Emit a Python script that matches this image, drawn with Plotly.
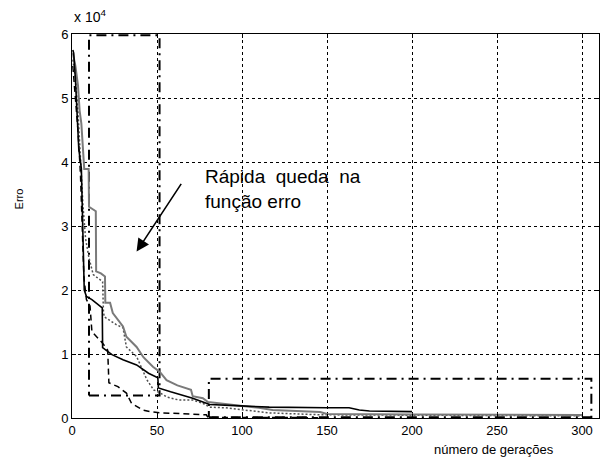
import plotly.graph_objects as go

# ---- data (error vs number of generations) ----
black_x = [0.5, 1, 2, 3, 4, 5.5, 6.5, 7.2, 8.5, 11.7, 17.8, 18, 23.5, 30, 38, 45, 50.5, 50.8, 58, 65, 71, 77, 81, 99, 116, 150, 163, 169, 175, 200]
black_y = [57500, 57000, 53000, 47000, 42000, 39000, 30000, 20000, 19000, 18500, 17200, 11000, 9900, 9100, 8300, 7000, 6300, 4700, 4100, 3600, 3100, 2500, 2100, 1900, 1700, 1600, 1600, 1250, 1100, 1000]

gray_x = [0.5, 2, 3.5, 4.5, 5.5, 6.5, 7.2, 9.8, 10, 14, 14.2, 17, 19.4, 19.6, 22.4, 24, 30, 32, 38, 42, 47.6, 51.7, 55.6, 62, 67.5, 70, 71, 77, 80, 94.6, 99, 110, 118, 146, 150, 200, 250, 300]
gray_y = [57000, 55000, 52000, 48000, 46000, 41000, 38900, 38900, 33000, 32300, 22900, 22600, 22100, 18000, 18000, 16400, 14300, 12700, 11100, 9500, 8000, 7200, 5900, 5100, 4700, 4400, 3400, 3100, 2500, 2000, 1900, 1600, 1250, 940, 630, 550, 480, 450]

dotted_x = [0.5, 2, 3.5, 5, 6.5, 8, 10, 12.5, 18, 18.5, 19, 26, 30, 32, 38, 44, 48, 52, 55.6, 63, 71, 77, 81, 90, 100, 116, 146, 200, 250, 300]
dotted_y = [56000, 53000, 48000, 40000, 33000, 28000, 25000, 22400, 21300, 16600, 15800, 14600, 14100, 11100, 9600, 6000, 4400, 3900, 3300, 2800, 2800, 2300, 1700, 1600, 1250, 800, 500, 400, 350, 330]

dashed_x = [0.5, 2, 3.5, 5, 6, 7, 8.5, 10.6, 11.7, 16.5, 18, 21, 21.7, 27, 32, 35, 41.7, 46, 52, 58, 79, 80, 150]
dashed_y = [55000, 50000, 45000, 38000, 30000, 22000, 18500, 17500, 13500, 12200, 11700, 10600, 5500, 4900, 3900, 2300, 1250, 1000, 800, 750, 500, 100, 50]

# highlight boxes (dash-dot)
box1_x = [10, 51.5, 51.5, 10, 10]
box1_y = [3500, 3500, 59800, 59800, 3500]
box2_x = [80.5, 305.5, 305.5, 80.5, 80.5]
box2_y = [100, 100, 6150, 6150, 100]

x_ticks = [0, 50, 100, 150, 200, 250, 300]
y_ticks = [0, 10000, 20000, 30000, 40000, 50000, 60000]
y_tick_text = ["0", "1", "2", "3", "4", "5", "6"]

arrow_from = (66, 37300)
arrow_to = (38, 26000)

FONT = "Liberation Sans, Arial, sans-serif"

fig = go.Figure()
fig.add_trace(go.Scatter(x=box1_x, y=box1_y, mode="lines",
                         line=dict(color="black", width=2, dash="10px,5px,2px,5px")))
fig.add_trace(go.Scatter(x=box2_x, y=box2_y, mode="lines",
                         line=dict(color="black", width=2, dash="10px,5px,2px,5px")))
fig.add_trace(go.Scatter(x=dashed_x, y=dashed_y, mode="lines",
                         line=dict(color="black", width=1.5, dash="6px,4px")))
fig.add_trace(go.Scatter(x=dotted_x, y=dotted_y, mode="lines",
                         line=dict(color="#505050", width=1.5, dash="2px,2px")))
fig.add_trace(go.Scatter(x=gray_x, y=gray_y, mode="lines",
                         line=dict(color="#7a7a7a", width=2)))
fig.add_trace(go.Scatter(x=black_x, y=black_y, mode="lines",
                         line=dict(color="black", width=1.6)))

fig.add_annotation(x=arrow_to[0], y=arrow_to[1], ax=arrow_from[0], ay=arrow_from[1],
                   xref="x", yref="y", axref="x", ayref="y", text=" ",
                   showarrow=True, arrowhead=2, arrowsize=1.6, arrowwidth=1.6, arrowcolor="black")
fig.add_annotation(x=77, y=39700, xref="x", yref="y", xanchor="left", yanchor="top",
                   text="Rápida  queda  na<br>função erro", showarrow=False, align="left",
                   font=dict(family=FONT, size=19, color="black"))
fig.add_annotation(x=0, y=1.0, xref="paper", yref="paper", xanchor="left", yanchor="bottom",
                   yshift=7, text="x 10<sup>4</sup>", showarrow=False,
                   font=dict(family=FONT, size=14, color="black"))
fig.add_annotation(x=-0.1, y=0.57, xref="paper", yref="paper", text="Erro", textangle=-90,
                   xanchor="center", yanchor="middle",
                   showarrow=False, font=dict(family=FONT, size=11, color="black"))
fig.add_annotation(x=0.80, y=-0.083, xref="paper", yref="paper", text="número de gerações",
                   showarrow=False, xanchor="center", yanchor="middle",
                   font=dict(family=FONT, size=13, color="black"))

axis_common = dict(showline=True, linecolor="black", linewidth=1, mirror="ticks",
                   ticks="inside", ticklen=4, tickcolor="black",
                   showgrid=True, gridcolor="black", gridwidth=1, griddash="3px,3px",
                   zeroline=False, tickfont=dict(family=FONT, size=13, color="black"))
fig.update_xaxes(range=[0, 310], tickvals=x_ticks, **axis_common)
fig.update_yaxes(range=[0, 60000], tickvals=y_ticks, ticktext=y_tick_text, **axis_common)

fig.update_layout(width=602, height=463, margin=dict(l=72, r=3, t=34, b=45),
                  plot_bgcolor="white", paper_bgcolor="white", showlegend=False,
                  font=dict(family=FONT))
fig.write_html("out.html")
